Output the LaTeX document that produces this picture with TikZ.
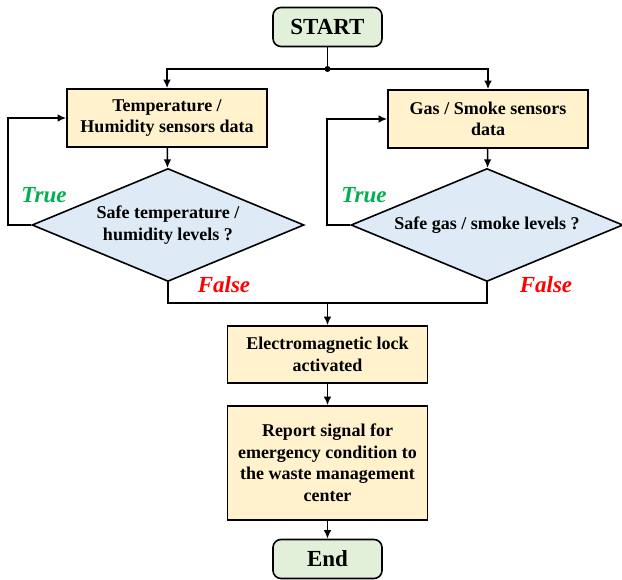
\documentclass[tikz,border=0pt]{standalone}
\usepackage{fontspec}
\setmainfont{Liberation Serif}
\usetikzlibrary{shapes,arrows.meta,positioning,calc}
\definecolor{termfill}{RGB}{226,240,217}
\definecolor{procfill}{RGB}{255,242,204}
\definecolor{decfill}{RGB}{222,235,247}
\definecolor{truegreen}{RGB}{0,176,80}
\definecolor{falsered}{RGB}{255,0,0}

\begin{document}
\begin{tikzpicture}[x=1pt, y=-1pt,
    terminal/.style={rectangle, rounded corners=8pt, draw=black, line width=1.6pt, fill=termfill, minimum width=109pt, minimum height=39pt, font=\fontsize{23}{26}\selectfont\bfseries},
    process/.style={rectangle, draw=black, line width=1.6pt, fill=procfill, minimum width=200pt, align=center, font=\fontsize{18}{21.5}\selectfont\bfseries},
    decision/.style={diamond, aspect=2.4, draw=black, line width=1.6pt, fill=decfill, minimum width=272pt, minimum height=113pt, inner sep=0pt, align=center, font=\fontsize{18}{21.5}\selectfont\bfseries},
    flow/.style={line width=1.5pt, -{Latex[length=8.5pt,width=7.5pt]}},
    link/.style={line width=1.5pt},
    truelabel/.style={font=\fontsize{23}{25}\selectfont\bfseries\itshape, text=truegreen},
    falselabel/.style={font=\fontsize{23}{25}\selectfont\bfseries\itshape, text=falsered}
]
\useasboundingbox (0,0) rectangle (622,580);

% Start and split
\node[terminal] (start) at (327.5, 27) {START};
\coordinate (split) at (327.5, 69);

% Sensor data boxes
\node[process, minimum height=58pt] (tempdata) at (167, 118) {Temperature /\\Humidity sensors data};
\node[process, minimum height=58pt] (gasdata) at (488, 119) {Gas / Smoke sensors\\data};

% Checks
\node[decision] (tempcheck) at (168, 225) {Safe temperature /\\humidity levels ?};
\node[decision] (gascheck) at (487, 225) {Safe gas / smoke levels ?};

% Merge and actions
\coordinate (merge) at (327.5, 303);
\node[process, minimum height=57pt] (lock) at (327.5, 354.5) {Electromagnetic lock\\activated};
\node[process, minimum height=114pt] (report) at (327.5, 463) {Report signal for\\emergency condition to\\the waste management\\center};
\node[terminal] (finish) at (327.5, 559) {End};

% Labels
\node[truelabel] (tempyes) at (44, 195) {True};
\node[truelabel] (gasyes) at (364, 195) {True};
\node[falselabel] (tempno) at (224, 285) {False};
\node[falselabel] (gasno) at (546, 285) {False};

% Connectors
\draw[link] (start) -- (split);
\fill (split) circle (3pt);
\draw[flow] (split) -| (tempdata);
\draw[flow] (split) -| (gasdata);
\draw[flow] (tempdata) -- (tempcheck);
\draw[flow] (gasdata) -- (gascheck);
\draw[flow] (tempcheck.west) -- ++(-23,0) |- (tempdata.west);
\draw[flow] (gascheck.west) -- ++(-23,0) |- (gasdata.west);
\draw[link] (tempcheck.south) |- (merge);
\draw[link] (gascheck.south) |- (merge);
\draw[flow] (merge) -- (lock);
\draw[flow] (lock) -- (report);
\draw[flow] (report) -- (finish);

\end{tikzpicture}
\end{document}
